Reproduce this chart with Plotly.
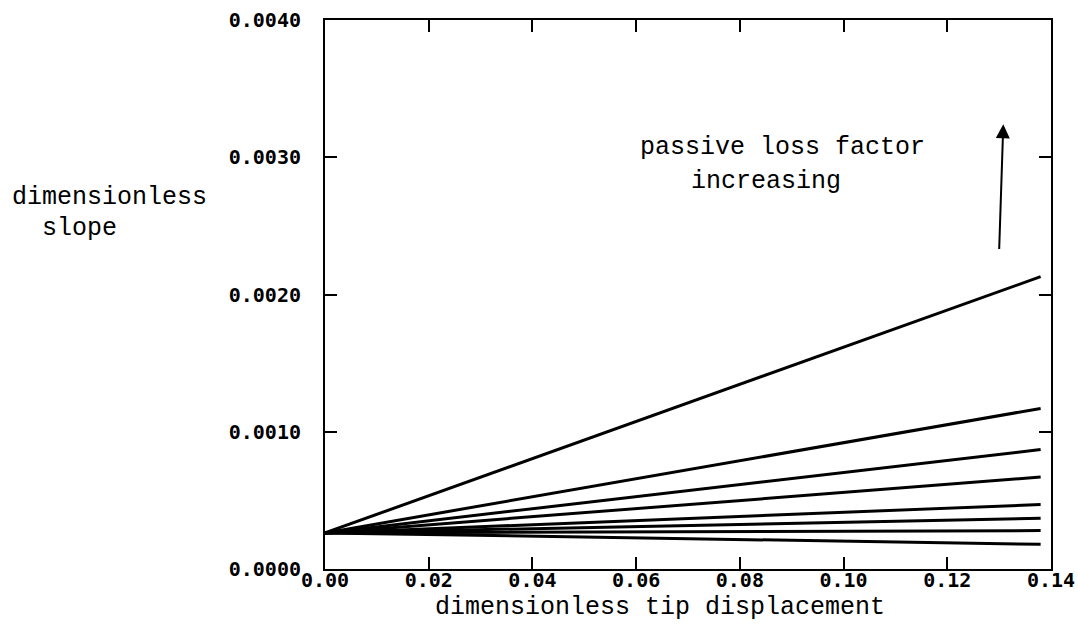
import plotly.graph_objects as go

# Data
x_vals = [0.0, 0.138]
start_slope = 0.000263
end_slopes = [0.00213, 0.00117, 0.00087, 0.00067, 0.00047, 0.00037, 0.00028, 0.00018]

x_ticks = [0.00, 0.02, 0.04, 0.06, 0.08, 0.10, 0.12, 0.14]
x_ticktext = ["0.00", "0.02", "0.04", "0.06", "0.08", "0.10", "0.12", "0.14"]
y_ticks = [0.0, 0.001, 0.002, 0.003, 0.004]
y_ticktext = ["0.0000", "0.0010", "0.0020", "0.0030", "0.0040"]

TEXT_FONT = dict(family="Liberation Mono", size=25, color="black")
TICK_FONT = dict(family="DejaVu Sans Mono", size=20, color="black", weight="bold")

fig = go.Figure()
for e in end_slopes:
    fig.add_trace(go.Scatter(
        x=x_vals, y=[start_slope, e], mode="lines",
        line=dict(color="black", width=3), showlegend=False, hoverinfo="skip"))

axis_common = dict(
    showline=True, linecolor="black", linewidth=2, mirror="ticks",
    ticks="inside", ticklen=12, tickwidth=2, tickcolor="black",
    showgrid=False, zeroline=False, tickfont=TICK_FONT, automargin=False,
)
fig.update_xaxes(range=[0, 0.14], tickvals=x_ticks, ticktext=x_ticktext,
                 ticklabelstandoff=-8, **axis_common)
fig.update_yaxes(range=[0, 0.004], tickvals=y_ticks, ticktext=y_ticktext,
                 ticklabelstandoff=18, **axis_common)

fig.update_layout(
    width=1078, height=643,
    margin=dict(l=325, r=27, t=20, b=74),
    paper_bgcolor="white", plot_bgcolor="white",
    annotations=[
        dict(text="dimensionless", xref="paper", yref="paper",
             x=-0.297, y=0.676, xanchor="center", yanchor="middle",
             showarrow=False, font=TEXT_FONT),
        dict(text="slope", xref="paper", yref="paper",
             x=-0.392, y=0.62, xanchor="left", yanchor="middle",
             showarrow=False, font=TEXT_FONT),
        dict(text="dimensionless tip displacement", xref="paper", yref="paper",
             x=0.461, y=-0.071, xanchor="center", yanchor="middle",
             showarrow=False, font=TEXT_FONT),
        dict(text="passive loss factor", xref="x", yref="y",
             x=0.0604, y=0.00307, xanchor="left", yanchor="middle",
             showarrow=False, font=TEXT_FONT),
        dict(text="increasing", xref="x", yref="y",
             x=0.0701, y=0.00282, xanchor="left", yanchor="middle",
             showarrow=False, font=TEXT_FONT),
        dict(text="", xref="x", yref="y", x=0.1308, y=0.00324,
             axref="x", ayref="y", ax=0.1300, ay=0.00232,
             showarrow=True, arrowhead=2, arrowsize=1.4, arrowwidth=2,
             arrowcolor="black"),
    ],
)

fig.write_html("out.html")
